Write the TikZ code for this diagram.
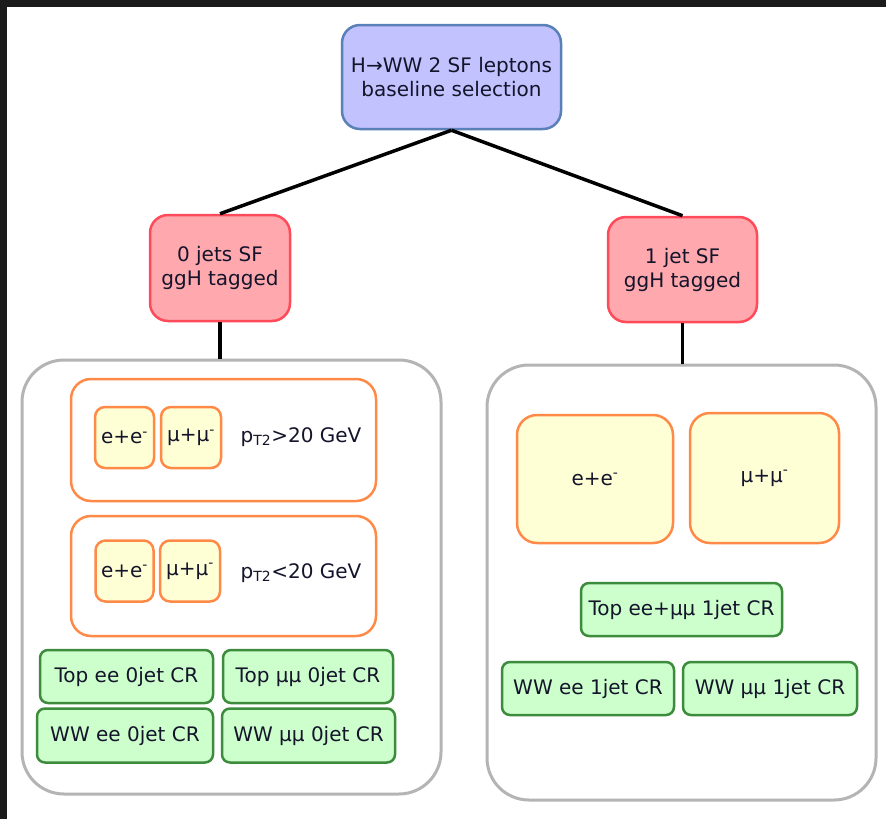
\documentclass[tikz,border=0pt]{standalone}
\usepackage{fontspec}
\setmainfont{DejaVu Sans}
\usepackage{xcolor}
\definecolor{frame-dark}{HTML}{1B1B1B}
\definecolor{sel-fill}{HTML}{C2C2FF}
\definecolor{sel-line}{HTML}{5A80B8}
\definecolor{cat-fill}{HTML}{FFA8AE}
\definecolor{cat-line}{HTML}{FF4A5A}
\definecolor{cut-line}{HTML}{FF8A48}
\definecolor{chan-fill}{HTML}{FFFFD6}
\definecolor{cr-fill}{HTML}{CCFFCC}
\definecolor{cr-line}{HTML}{3D8C3D}
\definecolor{region-line}{HTML}{B4B4B4}
\definecolor{ink}{HTML}{14142A}

\begin{document}
\begin{tikzpicture}[x=1pt, y=-1pt,
      every node/.style={font=\fontsize{20}{24}\selectfont, text=ink, align=center, inner sep=0pt},
      selbox/.style={draw=sel-line, line width=2.5pt, fill=sel-fill, rounded corners=18pt},
      catbox/.style={draw=cat-line, line width=2.5pt, fill=cat-fill, rounded corners=18pt},
      regionbox/.style={draw=region-line, line width=3pt, fill=white, rounded corners=42pt},
      cutbox/.style={draw=cut-line, line width=2.5pt, fill=white, rounded corners=20pt},
      chanbox/.style={draw=cut-line, line width=2.5pt, fill=chan-fill, rounded corners=10pt},
      crbox/.style={draw=cr-line, line width=2.5pt, fill=cr-fill, rounded corners=8pt},
      link/.style={line width=3.5pt, black}]
    % frame
    \fill[frame-dark] (0,0) rectangle (886,819);
    \fill[white] (7,7) rectangle (886,819);
    \useasboundingbox (0,0) rectangle (886,819);

    % selection and jet categories
    \node[selbox, minimum width=219pt, minimum height=104pt] (hww) at (451.5,77)
          {H→WW 2 SF leptons\\baseline selection};
    \node[catbox, minimum width=140pt, minimum height=106pt] (jet0) at (220,268)
          {0 jets SF\\ggH tagged};
    \node[catbox, minimum width=149pt, minimum height=105pt] (jet1) at (682.5,269.5)
          {1 jet SF\\ggH tagged};

    % 0 jet region
    \node[regionbox, minimum width=419pt, minimum height=434pt] (zero) at (231.5,577) {};
    \node[cutbox, minimum width=305pt, minimum height=122pt] (hi) at (223.5,440) {};
    \node[cutbox, minimum width=305pt, minimum height=120pt] (lo) at (223.5,576) {};
    \node[chanbox, minimum width=59pt, minimum height=61pt] (hiee) at (124.5,437.5)
          {e+e\textsuperscript{-}};
    \node[chanbox, minimum width=60pt, minimum height=61pt] (himm) at (191,437.5)
          {μ+μ\textsuperscript{-}};
    \node (hicut) at (301,437) {p\textsubscript{T2}>20 GeV};
    \node[chanbox, minimum width=58pt, minimum height=61pt] (loee) at (124.5,571)
          {e+e\textsuperscript{-}};
    \node[chanbox, minimum width=60pt, minimum height=61pt] (lomm) at (190,571)
          {μ+μ\textsuperscript{-}};
    \node (locut) at (301,573) {p\textsubscript{T2}<20 GeV};
    \node[crbox, minimum width=173pt, minimum height=53pt] (topee0) at (126.5,676.5)
          {Top ee 0jet CR};
    \node[crbox, minimum width=170pt, minimum height=53pt] (topmm0) at (308,676.5)
          {Top μμ 0jet CR};
    \node[crbox, minimum width=176pt, minimum height=54pt] (wwee0) at (125,735.5)
          {WW ee 0jet CR};
    \node[crbox, minimum width=173pt, minimum height=54pt] (wwmm0) at (308.5,735.5)
          {WW μμ 0jet CR};

    % 1 jet region
    \node[regionbox, minimum width=389pt, minimum height=435pt] (one) at (681.5,582.5) {};
    \node[chanbox, rounded corners=20pt, minimum width=156pt, minimum height=128pt]
          (ee1) at (595,479) {e+e\textsuperscript{-}};
    \node[chanbox, rounded corners=20pt, minimum width=149pt, minimum height=130pt]
          (mm1) at (764.5,478) {μ+μ\textsuperscript{-}};
    \node[crbox, minimum width=201pt, minimum height=53pt] (top1) at (681.5,609.5)
          {Top ee+μμ 1jet CR};
    \node[crbox, minimum width=172pt, minimum height=53pt] (wwee1) at (588,688.5)
          {WW ee 1jet CR};
    \node[crbox, minimum width=174pt, minimum height=53pt] (wwmm1) at (770,688.5)
          {WW μμ 1jet CR};

    % connectors
    \draw[link] (hww.south) -- (jet0.north);
    \draw[link] (hww.south) -- (jet1.north);
    \draw[link] (jet0.south) -- (jet0.south |- zero.north);
    \draw[link] (jet1.south) -- (jet1.south |- one.north);
  \end{tikzpicture}
\end{document}
